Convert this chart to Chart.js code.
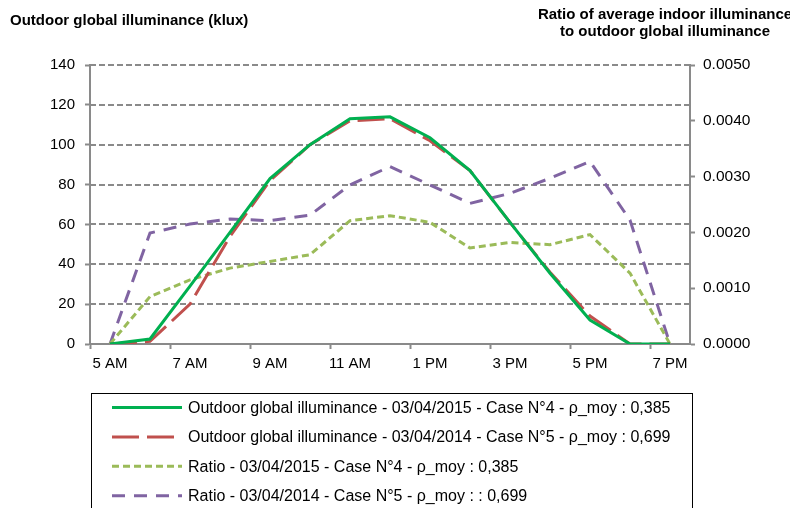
<!DOCTYPE html>
<html>
<head>
<meta charset="utf-8">
<script src="https://cdn.jsdelivr.net/npm/chart.js@4/dist/chart.umd.min.js"></script>
<style>
  html, body { margin: 0; padding: 0; background: #fff; }
  #wrap { position: relative; width: 790px; height: 508px; overflow: hidden; }
</style>
</head>
<body>
<div id="wrap"><canvas id="illumChart" width="790" height="508"></canvas></div>
<script>
// hours of the day (category axis)
const hours = ['5 AM', '6 AM', '7 AM', '8 AM', '9 AM', '10 AM', '11 AM', '12 PM',
               '1 PM', '2 PM', '3 PM', '4 PM', '5 PM', '6 PM', '7 PM'];

// outdoor global illuminance (klux)
const outdoor2015 = [0, 2.5, 29, 56, 83, 100, 113, 114, 103.5, 87, 61, 35.5, 12, 0, 0];
const outdoor2014 = [0, 1.3, 20, 54, 82, 100, 112, 113, 102, 87, 61, 36, 14, 0, 0];

// ratio indoor / outdoor
const ratio2015 = [0, 0.00085, 0.00115, 0.00136, 0.00148, 0.0016, 0.00221, 0.0023,
                   0.00218, 0.00172, 0.00182, 0.00178, 0.00196, 0.00127, 0];
const ratio2014 = [0, 0.00199, 0.00215, 0.00224, 0.00221, 0.00231, 0.00285, 0.00318,
                   0.00285, 0.00252, 0.0027, 0.00297, 0.00327, 0.00222, 0];

const seriesLabels = [
    'Outdoor global illuminance - 03/04/2015 - Case N°4 - ρ_moy : 0,385',
    'Outdoor global illuminance - 03/04/2014 - Case N°5 - ρ_moy : 0,699',
    'Ratio - 03/04/2015 - Case N°4 - ρ_moy : 0,385',
    'Ratio - 03/04/2014 - Case N°5 - ρ_moy : : 0,699'
];

const leftTitle = 'Outdoor global illuminance (klux)';
const rightTitle = ['Ratio of average indoor illuminance', 'to outdoor global illuminance'];

const axisGrey = '#8a8a8a';
const tickFont = { family: 'Liberation Sans, Arial, sans-serif', size: 15 };

// titles + boxed legend drawn on the canvas
const decorations = {
    id: 'decorations',
    afterDraw(chart) {
        const c = chart.ctx;
        c.save();
        c.fillStyle = '#000';
        c.font = 'bold 15px "Liberation Sans Narrow", "Liberation Sans", Arial, sans-serif';
        c.textBaseline = 'middle';
        c.textAlign = 'left';
        c.fillText(leftTitle, 10, 21);
        c.textAlign = 'center';
        c.fillText(rightTitle[0], 665, 15);
        c.fillText(rightTitle[1], 665, 32);

        // legend box
        c.strokeStyle = '#000';
        c.lineWidth = 1;
        c.strokeRect(91.5, 393.5, 601, 130);
        c.font = '16px "Liberation Sans", Arial, sans-serif';
        c.textAlign = 'left';
        chart.data.datasets.forEach(function(ds, i) {
            const y = 407.5 + i * 29.4;
            c.beginPath();
            c.setLineDash(ds.borderDash || []);
            c.strokeStyle = ds.borderColor;
            c.lineWidth = ds.borderWidth;
            c.moveTo(112, y);
            c.lineTo(182, y);
            c.stroke();
            c.setLineDash([]);
            c.fillStyle = '#000';
            c.fillText(ds.label, 188, y + 1);
        });
        c.restore();
    }
};

// dashed horizontal gridlines like the original
const dashedGrid = {
    id: 'dashedGrid',
    beforeDatasetsDraw(chart) {
        const c = chart.ctx, a = chart.chartArea, ys = chart.scales.y;
        c.save();
        c.strokeStyle = axisGrey;
        c.lineWidth = 2;
        c.setLineDash([6, 3]);
        ys.ticks.forEach(function(t) {
            if (t.value === 0) return;
            const y = Math.round(ys.getPixelForValue(t.value));
            c.beginPath();
            c.moveTo(a.left, y);
            c.lineTo(a.right, y);
            c.stroke();
        });
        c.restore();
    }
};

const ctx = document.getElementById('illumChart').getContext('2d');

new Chart(ctx, {
    type: 'line',
    data: {
        labels: hours,
        datasets: [
            {
                label: seriesLabels[0],
                data: outdoor2015,
                borderColor: '#00b050',
                borderWidth: 3,
                yAxisID: 'y'
            },
            {
                label: seriesLabels[1],
                data: outdoor2014,
                borderColor: '#c0504d',
                borderWidth: 3,
                borderDash: [27, 8],
                yAxisID: 'y'
            },
            {
                label: seriesLabels[2],
                data: ratio2015,
                borderColor: '#9bbb59',
                borderWidth: 3,
                borderDash: [7, 4],
                yAxisID: 'y1'
            },
            {
                label: seriesLabels[3],
                data: ratio2014,
                borderColor: '#8064a2',
                borderWidth: 3,
                borderDash: [13, 9],
                yAxisID: 'y1'
            }
        ]
    },
    options: {
        responsive: false,
        animation: false,
        layout: { padding: { top: 65, left: 0, right: 0, bottom: 0 } },
        elements: {
            point: { radius: 0 },
            line: { tension: 0, fill: false, borderCapStyle: 'butt' }
        },
        plugins: {
            legend: { display: false },
            tooltip: { enabled: false }
        },
        scales: {
            x: {
                type: 'category',
                offset: true,
                afterFit: function(scale) { scale.height = 164; },
                border: { color: axisGrey, width: 2 },
                grid: {
                    offset: true,
                    drawOnChartArea: false,
                    tickLength: 5,
                    tickWidth: 2,
                    tickColor: function(c) { return c.index % 2 === 0 ? axisGrey : 'rgba(0,0,0,0)'; }
                },
                ticks: {
                    autoSkip: false,
                    maxRotation: 0,
                    padding: 6,
                    color: '#000',
                    font: tickFont,
                    callback: function(v, i) { return i % 2 === 0 ? this.getLabelForValue(v) : ''; }
                }
            },
            y: {
                position: 'left',
                min: 0,
                max: 140,
                afterFit: function(scale) { scale.width = 90; },
                border: { color: axisGrey, width: 2 },
                grid: {
                    drawOnChartArea: false,
                    tickLength: 5,
                    tickWidth: 2,
                    tickColor: axisGrey
                },
                ticks: { stepSize: 20, color: '#000', font: tickFont, padding: 10 }
            },
            y1: {
                position: 'right',
                min: 0,
                max: 0.005,
                afterFit: function(scale) { scale.width = 100; },
                border: { color: axisGrey, width: 2 },
                grid: {
                    drawOnChartArea: false,
                    tickLength: 5,
                    tickWidth: 2,
                    tickColor: axisGrey
                },
                ticks: {
                    stepSize: 0.001,
                    color: '#000',
                    font: { family: tickFont.family, size: 15.5 },
                    padding: 8,
                    callback: function(v) { return v.toFixed(4); }
                }
            }
        }
    },
    plugins: [dashedGrid, decorations]
});
</script>
</body>
</html>
